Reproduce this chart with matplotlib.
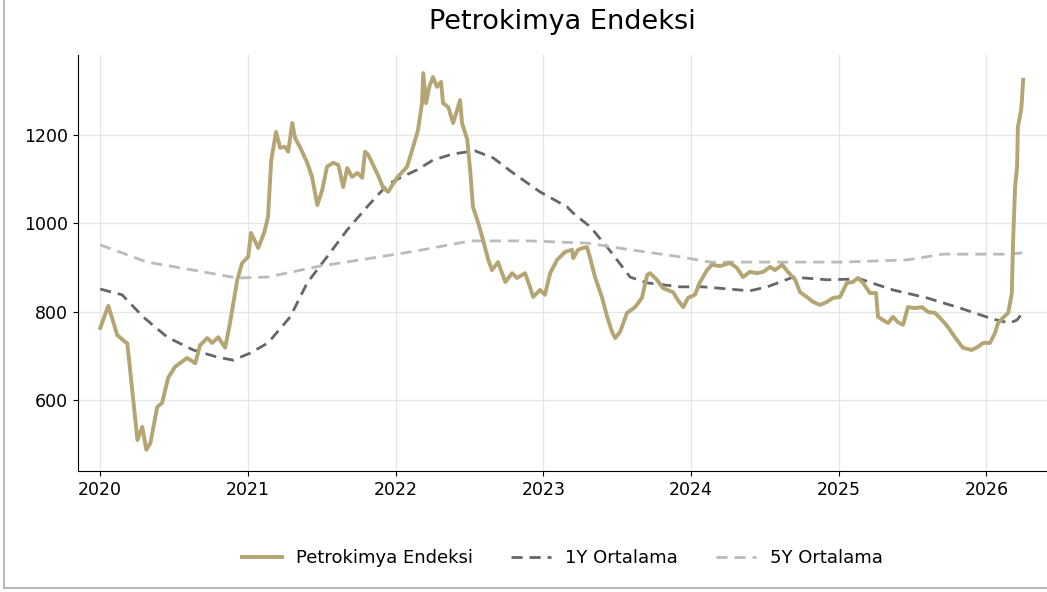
import matplotlib
matplotlib.use("Agg")
import matplotlib.pyplot as plt
import matplotlib.dates as mdates
from matplotlib.lines import Line2D
import pandas as pd

# ── Data ─────────────────────────────────────────────────────
INDEX_DATES = [
    "2020-01-01", "2020-01-21", "2020-02-12", "2020-03-03", "2020-03-08", "2020-04-02",
    "2020-04-14", "2020-04-24", "2020-05-04", "2020-05-21", "2020-06-02", "2020-06-17",
    "2020-07-04", "2020-08-03", "2020-08-23", "2020-09-04", "2020-09-22", "2020-10-04",
    "2020-10-19", "2020-11-05", "2020-11-17", "2020-12-05", "2020-12-17", "2021-01-01",
    "2021-01-08", "2021-01-26", "2021-02-10", "2021-02-19", "2021-02-27", "2021-03-11",
    "2021-03-21", "2021-04-02", "2021-04-10", "2021-04-20", "2021-04-27", "2021-05-10",
    "2021-05-27", "2021-06-08", "2021-06-21", "2021-07-03", "2021-07-15", "2021-07-30",
    "2021-08-12", "2021-08-24", "2021-09-03", "2021-09-15", "2021-09-28", "2021-10-10",
    "2021-10-17", "2021-10-25", "2021-11-06", "2021-11-18", "2021-12-01", "2021-12-13",
    "2022-01-04", "2022-01-29", "2022-02-13", "2022-02-25", "2022-03-07", "2022-03-10",
    "2022-03-17", "2022-03-25", "2022-04-03", "2022-04-13", "2022-04-23", "2022-04-28",
    "2022-05-11", "2022-05-23", "2022-06-02", "2022-06-09", "2022-06-14", "2022-06-27",
    "2022-07-04", "2022-07-11", "2022-07-24", "2022-08-05", "2022-08-18", "2022-08-27",
    "2022-09-11", "2022-09-29", "2022-10-16", "2022-10-28", "2022-11-17", "2022-11-29",
    "2022-12-07", "2022-12-24", "2023-01-05", "2023-01-18", "2023-02-04", "2023-02-24",
    "2023-03-13", "2023-03-16", "2023-03-28", "2023-04-09", "2023-04-19", "2023-04-27",
    "2023-05-09", "2023-05-26", "2023-06-08", "2023-06-20", "2023-06-28", "2023-07-10",
    "2023-07-27", "2023-08-16", "2023-09-02", "2023-09-15", "2023-09-22", "2023-10-09",
    "2023-10-24", "2023-11-18", "2023-11-30", "2023-12-13", "2023-12-25", "2024-01-11",
    "2024-01-24", "2024-02-10", "2024-02-22", "2024-03-13", "2024-04-07", "2024-04-24",
    "2024-05-09", "2024-05-26", "2024-06-13", "2024-06-28", "2024-07-15", "2024-07-27",
    "2024-08-14", "2024-08-28", "2024-09-15", "2024-09-27", "2024-10-14", "2024-10-29",
    "2024-11-16", "2024-12-03", "2024-12-18", "2025-01-04", "2025-01-21", "2025-02-05",
    "2025-02-17", "2025-03-02", "2025-03-19", "2025-04-03", "2025-04-08", "2025-04-20",
    "2025-05-03", "2025-05-15", "2025-05-27", "2025-06-09", "2025-06-21", "2025-07-08",
    "2025-07-26", "2025-08-10", "2025-08-27", "2025-09-13", "2025-09-28", "2025-10-15",
    "2025-11-04", "2025-11-26", "2025-12-11", "2025-12-24", "2026-01-10", "2026-01-22",
    "2026-01-30", "2026-02-11", "2026-02-24", "2026-03-05", "2026-03-08", "2026-03-13",
    "2026-03-18", "2026-03-20", "2026-03-28", "2026-03-30", "2026-04-02",
]
INDEX_VALUES = [
    763, 813, 747, 731, 728, 509,
    539, 487, 502, 584, 593, 650,
    675, 695, 683, 724, 740, 729,
    742, 718, 774, 872, 910, 924,
    978, 944, 980, 1014, 1143, 1207,
    1171, 1173, 1162, 1227, 1193, 1171,
    1137, 1105, 1041, 1075, 1128, 1137,
    1132, 1082, 1125, 1105, 1114, 1103,
    1162, 1155, 1132, 1109, 1080, 1071,
    1103, 1128, 1173, 1211, 1272, 1340,
    1272, 1309, 1331, 1309, 1320, 1272,
    1263, 1227, 1257, 1279, 1227, 1189,
    1121, 1037, 1001, 962, 917, 894,
    912, 867, 887, 876, 887, 856,
    833, 849, 838, 887, 917, 935,
    940, 921, 940, 944, 946, 921,
    878, 833, 788, 754, 740, 754,
    797, 810, 831, 883, 887, 872,
    853, 844, 826, 810, 831, 838,
    867, 894, 906, 903, 910, 899,
    878, 890, 887, 890, 901, 894,
    906, 890, 872, 844, 833, 822,
    815, 822, 831, 833, 865, 867,
    876, 865, 842, 842, 788, 781,
    774, 788, 776, 770, 810, 808,
    810, 799, 797, 781, 765, 742,
    718, 713, 720, 729, 729, 751,
    774, 786, 797, 842, 955, 1082,
    1128, 1218, 1257, 1279, 1325,
]

MA1Y_DATES = [
    "2020-01-01", "2020-02-24", "2020-04-16", "2020-06-15", "2020-08-18", "2020-10-16",
    "2020-11-25", "2021-01-06", "2021-02-19", "2021-04-15", "2021-05-27", "2021-07-15",
    "2021-09-03", "2021-10-22", "2021-12-11", "2022-01-12", "2022-02-23", "2022-04-03",
    "2022-05-23", "2022-07-16", "2022-08-30", "2022-10-18", "2022-12-24", "2023-03-01",
    "2023-03-16", "2023-04-27", "2023-06-08", "2023-08-04", "2023-09-15", "2023-12-05",
    "2024-01-31", "2024-05-26", "2024-07-08", "2024-09-10", "2024-12-03", "2025-02-22",
    "2025-05-15", "2025-08-07", "2025-10-28", "2026-01-17", "2026-02-28", "2026-03-18",
    "2026-04-02",
]
MA1Y_VALUES = [
    851, 838, 788, 742, 713, 697,
    690, 706, 729, 788, 865, 924,
    985, 1037, 1087, 1103, 1121, 1143,
    1157, 1164, 1148, 1114, 1071, 1037,
    1023, 992, 946, 878, 865, 856,
    856, 847, 856, 878, 872, 874,
    849, 831, 808, 783, 774, 781,
    799,
]

MA5Y_DATES = [
    "2020-01-01", "2020-04-26", "2020-08-18", "2020-12-05", "2021-02-17", "2021-06-28",
    "2021-10-05", "2022-02-06", "2022-03-10", "2022-07-04", "2022-11-29", "2023-04-19",
    "2023-08-04", "2023-12-05", "2024-02-18", "2024-09-10", "2025-01-11", "2025-06-19",
    "2025-09-16", "2026-02-28", "2026-04-02",
]
MA5Y_VALUES = [
    951, 912, 894, 876, 878, 903,
    917, 935, 940, 960, 960, 955,
    940, 924, 912, 912, 912, 917,
    930, 930, 933,
]

# ── Figure ───────────────────────────────────────────────────
plt.rcParams.update({
    "font.family": "DejaVu Sans",
    "font.size": 12,
})

fig = plt.figure(figsize=(10.47, 5.92), dpi=100)
ax = fig.add_axes([0.0745, 0.2044, 0.9255, 0.7027])

ax.plot(pd.to_datetime(INDEX_DATES), INDEX_VALUES, color="#b5a573",
        linewidth=2.8, label="Petrokimya Endeksi", zorder=3)
ax.plot(pd.to_datetime(MA1Y_DATES), MA1Y_VALUES, color="#666666",
        linewidth=2.0, linestyle=(0, (4, 2.5)), label="1Y Ortalama", zorder=2)
ax.plot(pd.to_datetime(MA5Y_DATES), MA5Y_VALUES, color="#bbbbbb",
        linewidth=2.0, linestyle=(0, (4, 2.5)), label="5Y Ortalama", zorder=2)

ax.set_xlim(pd.Timestamp("2019-11-07"), pd.Timestamp("2026-05-31"))
ax.set_ylim(439, 1381)
ax.set_yticks([600, 800, 1000, 1200])
ax.xaxis.set_major_locator(mdates.YearLocator())
ax.xaxis.set_major_formatter(mdates.DateFormatter("%Y"))

ax.grid(True, color="#e6e6e6", linewidth=1.0)
ax.set_axisbelow(True)
for side in ("top", "right"):
    ax.spines[side].set_visible(False)
ax.tick_params(labelsize=12.5)

fig.suptitle("Petrokimya Endeksi", fontsize=19.5, x=0.537, y=0.985)

ax.legend(loc="center", bbox_to_anchor=(0.5, -0.21), ncol=3, frameon=False,
          fontsize=13, handlelength=2.2, columnspacing=2.1)

# thin frame left/bottom as in the reference
fig.add_artist(Line2D([0.0038, 0.0038], [0.007, 1.0], color="#aaaaaa", linewidth=1.2))
fig.add_artist(Line2D([0.0038, 1.0], [0.007, 0.007], color="#aaaaaa", linewidth=1.2))

fig.savefig("out.png", dpi=100)
